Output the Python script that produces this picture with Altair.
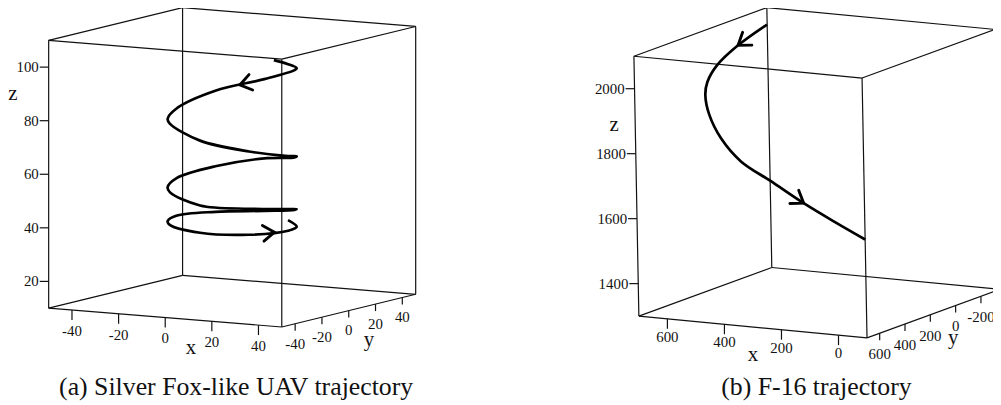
import math
import altair as alt
import pandas as pd

# ------------------------------------------------------------------ data
# (a) Silver Fox-like UAV trajectory: 3-D samples
a_x = [22.6, 24.0, 20.8, 17.0, 0.0, -17.0, -24.0, -20.8, -17.0, 0.0, 17.0,
       24.0, 20.8, 17.0, 0.0, -17.0, -24.0, -20.8, -17.0, 0.0, 17.0,
       24.0, 20.8, 17.0, 0.0, -17.0, -24.0, -20.8, -17.0, 0.0, 17.0,
       24.0, 20.8, 12.0]
a_y = [-8.2, 0.0, 12.0, 17.0, 24.0, 17.0, 0.0, -12.0, -17.0, -24.0, -17.0,
       0.0, 12.0, 17.0, 24.0, 17.0, 0.0, -12.0, -17.0, -24.0, -17.0,
       0.0, 12.0, 17.0, 24.0, 17.0, 0.0, -12.0, -17.0, -24.0, -17.0,
       0.0, 12.0, 20.8]
a_z = [102.6, 100.2, 97.0, 95.4, 90.0, 85.3, 80.2, 78.1, 77.2, 72.9, 69.2,
       65.9, 64.1, 62.8, 60.4, 57.1, 54.2, 52.6, 51.6, 48.7, 47.8,
       46.1, 44.4, 43.2, 40.8, 40.1, 40.2, 39.9, 39.4, 38.5, 38.1,
       38.0, 37.8, 38.6]

# (b) F-16 trajectory
b_x = [700, 655, 612, 561, 518, 484, 428, 349, 237, 118, 2, -100]
b_y = [-349, -18, 245, 438, 552, 600, 635, 660, 678, 690, 696, 700]
b_z = [2048, 2035, 2015, 1995, 1975, 1924, 1860, 1800, 1751, 1695, 1645, 1603]

a_xticks = [-40, -20, 0, 20, 40]
a_yticks = [-40, -20, 0, 20, 40]
a_zticks = [20, 40, 60, 80, 100]
b_xticks = [600, 400, 200, 0]
b_yticks = [600, 400, 200, 0, -200]
b_zticks = [1400, 1600, 1800, 2000]

captions = ["(a) Silver Fox-like UAV trajectory", "(b) F-16 trajectory"]
axis_names = ["x", "y", "z"]

# ------------------------------------------------------------------ layout
# each 3-D box: axis ranges and its oblique projection on the page (pixels)
PANELS = {
    "a": dict(xr=(-50, 50), yr=(-50, 50), zr=(10, 110),
              O=(49, 309), EX=(235, 19), EY=(135, -33), EZ=(0, -270),
              xt=a_xticks, yt=a_yticks, zt=a_zticks, data=(a_x, a_y, a_z),
              xlab_dy=26, ylab_dy=25,
              names=[(192.5, 355), (372, 347), (13, 99)],
              cap=(238, 397), arrows=[(4, 0.5), (30, 0.65)], caption=captions[0]),
    "b": dict(xr=(700, -100), yr=(700, -350), zr=(1300, 2100),
              O=(644, 317), EX=(230, 22), EY=(134, -49), EZ=(-5, -262),
              xt=b_xticks, yt=b_yticks, zt=b_zticks, data=(b_x, b_y, b_z),
              xlab_dy=23, ylab_dy=26,
              names=[(759, 362), (961, 345), (619, 130)],
              cap=(823, 397), arrows=[(0, 1.0), (8, 1.0)], caption=captions[1]),
}

edges, ticks, lab_z, lab_xy, names, caps, curve, arrows = [], [], [], [], [], [], [], []

for key, P in PANELS.items():
    x0, x1 = P["xr"]
    y0, y1 = P["yr"]
    z0, z1 = P["zr"]

    def pr(x, y, z, P=P, x0=x0, x1=x1, y0=y0, y1=y1, z0=z0, z1=z1):
        fx = (x - x0) / (x1 - x0)
        fy = (y - y0) / (y1 - y0)
        fz = (z - z0) / (z1 - z0)
        sx = P["O"][0] + fx * P["EX"][0] + fy * P["EY"][0] + fz * P["EZ"][0]
        sy = P["O"][1] + fx * P["EX"][1] + fy * P["EY"][1] + fz * P["EZ"][1]
        return float(sx), float(sy)

    def seg(lst, p, q):
        lst.append(dict(sx=p[0], sy=p[1], sx2=q[0], sy2=q[1]))

    # 12 box edges
    for a in (x0, x1):
        for b in (y0, y1):
            seg(edges, pr(a, b, z0), pr(a, b, z1))
    for a in (x0, x1):
        for c in (z0, z1):
            seg(edges, pr(a, y0, c), pr(a, y1, c))
    for b in (y0, y1):
        for c in (z0, z1):
            seg(edges, pr(x0, b, c), pr(x1, b, c))

    # z ticks on the front-left vertical edge
    for t in P["zt"]:
        sx, sy = pr(x0, y0, t)
        seg(ticks, (sx, sy), (sx - 9, sy))
        lab_z.append(dict(sx=sx - 10, sy=sy, label=str(t)))
    # x ticks on the front-bottom edge
    for t in P["xt"]:
        sx, sy = pr(t, y0, z0)
        seg(ticks, (sx, sy), (sx, sy + 10))
        lab_xy.append(dict(sx=sx, sy=sy + P["xlab_dy"], label=str(t)))
    # y ticks on the right-bottom edge
    for t in P["yt"]:
        sx, sy = pr(x1, t, z0)
        seg(ticks, (sx, sy), (sx, sy + 7))
        lab_xy.append(dict(sx=sx, sy=sy + P["ylab_dy"], label=str(t)))

    for nm, (sx, sy) in zip(axis_names, P["names"]):
        names.append(dict(sx=sx, sy=sy, label=nm))
    caps.append(dict(sx=P["cap"][0], sy=P["cap"][1], label=P["caption"]))

    xs, ys, zs = P["data"]
    pts = [pr(x, y, z) for x, y, z in zip(xs, ys, zs)]
    for i, (sx, sy) in enumerate(pts):
        curve.append(dict(panel=key, idx=i, sx=sx, sy=sy))
    for i, f in P["arrows"]:
        (ax, ay), (bx, by) = pts[i], pts[i + 1]
        ang = math.degrees(math.atan2(by - ay, bx - ax)) % 360
        arrows.append(dict(sx=ax + f * (bx - ax), sy=ay + f * (by - ay), ang=ang))

# ------------------------------------------------------------------ chart
XS = alt.Scale(domain=[8, 1001], nice=False, zero=False)
YS = alt.Scale(domain=[8, 405], nice=False, zero=False, reverse=True)
X = alt.X("sx:Q", scale=XS, axis=None)
Y = alt.Y("sy:Q", scale=YS, axis=None)
FONT = "Liberation Serif"
INK = "#111111"


def rules(rows, width):
    return alt.Chart(pd.DataFrame(rows)).mark_rule(color=INK, strokeWidth=width).encode(
        x=X, y=Y, x2="sx2:Q", y2="sy2:Q")


edge_layer = rules(edges, 1.2)
tick_layer = rules(ticks, 1.2)

zlab_layer = alt.Chart(pd.DataFrame(lab_z)).mark_text(
    font=FONT, fontSize=15, align="right", baseline="middle", color=INK).encode(
    x=X, y=Y, text="label:N")
xylab_layer = alt.Chart(pd.DataFrame(lab_xy)).mark_text(
    font=FONT, fontSize=15, align="center", baseline="alphabetic", color=INK).encode(
    x=X, y=Y, text="label:N")
name_layer = alt.Chart(pd.DataFrame(names)).mark_text(
    font=FONT, fontSize=21, align="center", baseline="alphabetic", color=INK).encode(
    x=X, y=Y, text="label:N")
cap_layer = alt.Chart(pd.DataFrame(caps)).mark_text(
    font=FONT, fontSize=26, align="center", baseline="alphabetic", color=INK).encode(
    x=X, y=Y, text="label:N")

curve_layer = alt.Chart(pd.DataFrame(curve)).mark_line(
    interpolate="catmull-rom", strokeWidth=2.7, color="#000000").encode(
    x=X, y=Y, detail="panel:N", order="idx:Q")

CHEVRON = "M-1,-0.7L0,0L-1,0.7"
arrow_layer = alt.Chart(pd.DataFrame(arrows)).mark_point(
    shape=CHEVRON, size=520, filled=False, strokeWidth=2.9, color="#000000",
    opacity=1, strokeCap="round", strokeJoin="miter").encode(
    x=X, y=Y, angle=alt.Angle("ang:Q", scale=None))

chart = alt.layer(
    edge_layer, tick_layer, curve_layer, arrow_layer,
    zlab_layer, xylab_layer, name_layer, cap_layer,
).properties(
    width=993, height=397, padding=0,
    autosize=alt.AutoSizeParams(type="none"),
).configure_view(stroke=None)

chart.save("out.html", embed_options={"renderer": "svg", "actions": False})
